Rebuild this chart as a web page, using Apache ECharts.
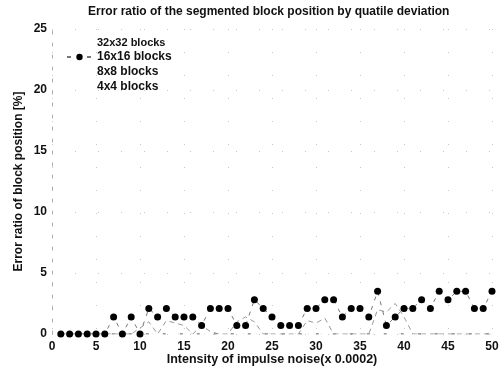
<!DOCTYPE html>
<html>
<head>
<meta charset="utf-8">
<script src="https://cdn.jsdelivr.net/npm/echarts@6/dist/echarts.min.js"></script>
<style>
html,body{margin:0;padding:0;background:#fff;}
#chart{width:500px;height:370px;}
</style>
</head>
<body>
<div id="chart"></div>
<script>
var noise = [];
for (var i = 1; i <= 50; i++) noise.push(i);
var yTicks = [0, 5, 10, 15, 20, 25];
var xTicks = [0, 5, 10, 15, 20, 25, 30, 35, 40, 45, 50];

var blocks32 = [0,0,0,0,0,0,0,0,0,0,0,0,0,0,0,0,0,0,0,0,0,0,0,0,0,0,0,0,0,0,0,0,0,0,0,0,0,0,0,0,0,0,0,0,0,0,0,0,0,0];
var blocks16 = [0,0,0,0,0,0,1.4,0,1.4,0,2.1,1.4,2.1,1.4,1.4,1.4,0.7,2.1,2.1,2.1,0.7,0.7,2.8,2.1,1.4,0.7,0.7,0.7,2.1,2.1,2.8,2.8,1.4,2.1,2.1,1.4,3.5,0.7,1.4,2.1,2.1,2.8,2.1,3.5,2.8,3.5,3.5,2.1,2.1,3.5];
var blocks8 = [0,0,0,0,0,0,0,0,0,0.5,1.0,0,1.1,0.9,0.7,0,0.7,0.2,0,0,1.0,1.4,1.0,0,0,0,0,0,1.1,0.9,1.3,0,0,0,0,0,2.0,1.8,2.5,1.4,0,0,0,0,0,0,0,0,0,0];
var blocks4 = [0,0,0,0,0,0,0,0,0,0,0,0,0,0,0,0,0,0,0,0,0,0,0,0,0,0,0,0,0,0,0,0,0,0,0,0,0,0,0,0,0,0,0,0,0,0,0,0,0,0];

function pairs(vals) {
  return noise.map(function (x, i) { return [x, vals[i]]; });
}

var fontFam = '"Liberation Sans", Arial, sans-serif';
var chart = echarts.init(document.getElementById('chart'), null, {renderer: 'canvas'});
chart.setOption({
  animation: false,
  backgroundColor: '#fff',
  title: {
    text: 'Error ratio of the segmented block position by quatile deviation',
    left: 88, top: 6, padding: 0,
    textStyle: {fontFamily: fontFam, fontSize: 12, fontWeight: 'bold', color: '#111'}
  },
  legend: {
    orient: 'vertical', left: 66, top: 37, padding: 0,
    itemWidth: 25, itemHeight: 8, itemGap: 3,
    textStyle: {fontFamily: fontFam, fontSize: 12, fontWeight: 'bold', color: '#111'},
    data: [
      {name: '32x32 blocks', icon: 'none', textStyle: {fontSize: 11}},
      {name: '16x16 blocks'},
      {name: '8x8 blocks', icon: 'none'},
      {name: '4x4 blocks', icon: 'none'}
    ]
  },
  grid: {left: 52, right: 8, top: 29, bottom: 36, containLabel: false, outerBoundsMode: 'none'},
  xAxis: {
    type: 'value', min: 0, max: 50, interval: 5,
    axisLine: {show: false},
    axisTick: {show: false},
    axisLabel: {fontFamily: fontFam, fontSize: 12, fontWeight: 'bold', color: '#111', margin: 7,
      formatter: function (v) { return xTicks.indexOf(v) >= 0 ? String(v) : ''; }},
    splitLine: {show: true, lineStyle: {color: '#c8c8c8', width: 1, type: [1, 22]}},
    name: 'Intensity of impulse noise(x 0.0002)',
    nameLocation: 'middle', nameGap: 19, nameMoveOverlap: false,
    nameTextStyle: {fontFamily: fontFam, fontSize: 12.5, fontWeight: 'bold', color: '#111'}
  },
  yAxis: {
    type: 'value', min: 0, max: 25, interval: 5,
    axisLine: {show: true, lineStyle: {color: '#aaa', width: 1, type: [3, 9]}},
    axisTick: {show: false},
    axisLabel: {fontFamily: fontFam, fontSize: 12, fontWeight: 'bold', color: '#111', margin: 5,
      formatter: function (v) { return yTicks.indexOf(v) >= 0 ? String(v) : ''; }},
    splitLine: {show: true, lineStyle: {color: '#c8c8c8', width: 1, type: [1, 22]}},
    name: 'Error ratio of block position [%]',
    nameLocation: 'middle', nameGap: 27, nameMoveOverlap: false,
    nameTextStyle: {fontFamily: fontFam, fontSize: 12, fontWeight: 'bold', color: '#111'}
  },
  series: [
    {name: '32x32 blocks', type: 'line', data: pairs(blocks32), showSymbol: false, symbol: 'none',
      lineStyle: {color: '#333', width: 1, type: [3, 14]}, itemStyle: {color: '#fff'}, z: 1},
    {name: '16x16 blocks', type: 'line', data: pairs(blocks16), symbol: 'circle', symbolSize: 7,
      showSymbol: true,
      itemStyle: {color: '#000'},
      lineStyle: {color: '#777', width: 1, type: [4, 6]}, z: 5},
    {name: '8x8 blocks', type: 'line', data: pairs(blocks8), showSymbol: false, symbol: 'none',
      lineStyle: {color: '#999', width: 1, type: [5, 4]}, itemStyle: {color: '#fff'}, z: 2},
    {name: '4x4 blocks', type: 'line', data: pairs(blocks4), showSymbol: false, symbol: 'none',
      lineStyle: {color: '#ccc', width: 1, type: [1, 12]}, itemStyle: {color: '#fff'}, z: 1}
  ]
});
</script>
</body>
</html>
